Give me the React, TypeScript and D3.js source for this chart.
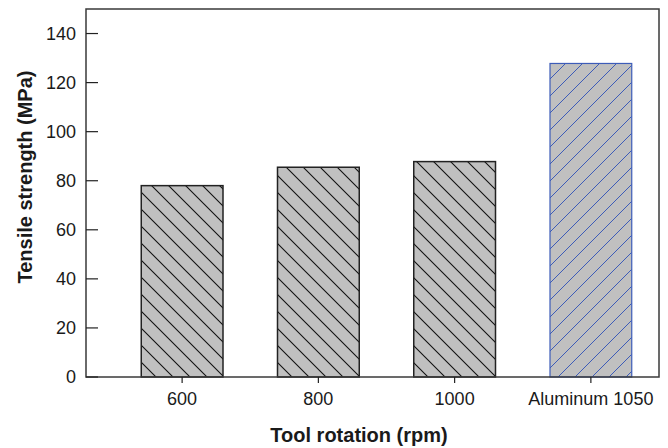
import React from "react";
import * as d3 from "d3";

const categories = ["600", "800", "1000", "Aluminum 1050"];
const strength = [78, 85.5, 87.8, 127.8];
const yTicks = [0, 20, 40, 60, 80, 100, 120, 140];

const W = 668;
const H = 448;
const plot = { left: 86, right: 659, top: 9, bottom: 377 };
const font = "'Liberation Sans', Arial, sans-serif";

export default function App() {
  const x = d3
    .scaleBand<string>()
    .domain(categories)
    .range([114, plot.right])
    .paddingInner(0.4)
    .paddingOuter(0.2);
  const y = d3.scaleLinear().domain([0, 150]).range([plot.bottom, plot.top]);

  return (
    <svg
      width={W}
      height={H}
      style={{ position: "absolute", left: 0, top: 0, background: "#fff" }}
      fontFamily={font}
    >
      <defs>
        <pattern id="hatch-black" patternUnits="userSpaceOnUse" width="17" height="17">
          <rect width="17" height="17" fill="#c0c0c0" />
          <path d="M0,0 L17,17 M-2,15 L2,19 M15,-2 L19,2" stroke="#111" strokeWidth="1.1" />
        </pattern>
        <pattern id="hatch-blue" patternUnits="userSpaceOnUse" width="17" height="17">
          <rect width="17" height="17" fill="#c0c0c0" />
          <path d="M0,17 L17,0 M-2,2 L2,-2 M15,19 L19,15" stroke="#3d5cb8" strokeWidth="1" />
        </pattern>
      </defs>

      {categories.map((c, i) => {
        const isAl = i === categories.length - 1;
        return (
          <rect
            key={c}
            x={x(c)}
            y={y(strength[i])}
            width={x.bandwidth()}
            height={y(0) - y(strength[i])}
            fill={isAl ? "url(#hatch-blue)" : "url(#hatch-black)"}
            stroke={isAl ? "#3d5cb8" : "#222"}
            strokeWidth={isAl ? 1.2 : 1.5}
          />
        );
      })}

      {/* frame */}
      <rect
        x={plot.left}
        y={plot.top}
        width={plot.right - plot.left}
        height={plot.bottom - plot.top}
        fill="none"
        stroke="#3a3a3a"
        strokeWidth={1.5}
      />

      {/* y ticks (inward) */}
      {yTicks.map((t) => (
        <g key={t}>
          <line x1={plot.left} x2={plot.left + 12} y1={y(t)} y2={y(t)} stroke="#222" strokeWidth={1.2} />
          <text
            x={76}
            y={y(t)}
            dy="0.35em"
            textAnchor="end"
            fontSize={18}
            fill="#1a1a1a"
          >
            {t}
          </text>
        </g>
      ))}

      {/* x ticks (outward) */}
      {categories.map((c) => {
        const cx = (x(c) as number) + x.bandwidth() / 2;
        return (
          <g key={c}>
            <line x1={cx} x2={cx} y1={plot.bottom} y2={plot.bottom + 6} stroke="#222" strokeWidth={1.2} />
            <text x={cx} y={405} textAnchor="middle" fontSize={18} fill="#1a1a1a">
              {c}
            </text>
          </g>
        );
      })}

      <text
        x={359}
        y={442}
        textAnchor="middle"
        fontSize={20}
        fontWeight="bold"
        fill="#1a1a1a"
      >
        Tool rotation (rpm)
      </text>
      <text
        transform="translate(32,177) rotate(-90)"
        textAnchor="middle"
        fontSize={20}
        fontWeight="bold"
        fill="#1a1a1a"
      >
        Tensile strength (MPa)
      </text>
    </svg>
  );
}
